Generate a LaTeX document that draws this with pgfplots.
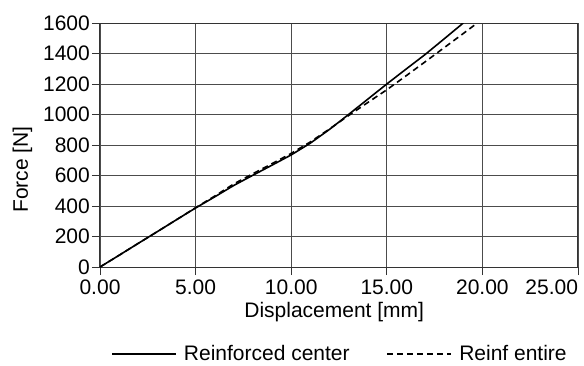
\documentclass[border=0pt]{standalone}
\usepackage{fontspec}
\setmainfont{Liberation Sans}
\usepackage{pgfplots}
\pgfplotsset{compat=1.18}
\begin{document}
\begin{tikzpicture}
\path[use as bounding box] (-100pt,-98pt) rectangle (484pt,267pt);
\begin{axis}[
  scale only axis,
  width=478pt, height=244pt,
  at={(0,0)}, anchor=south west,
  xmin=0, xmax=25, ymin=0, ymax=1600,
  xtick={0,5,10,15,20,25},
  xticklabels={0.00,5.00,10.00,15.00,20.00,\llap{25.00}},
  ytick={0,200,400,600,800,1000,1200,1400,1600},
  yticklabels={0,200,400,600,800,1000,1200,1400,1600},
  grid=major,
  major grid style={black!70, line width=0.9pt},
  axis line style={black!80, line width=1pt},
  tick style={black!80, line width=0.9pt},
  tick align=outside,
  major tick length=8pt,
  xtick pos=bottom, ytick pos=left,
  tick label style={font=\fontsize{21}{25}\selectfont, inner sep=2pt},
  xticklabel style={yshift=-3pt},
  label style={font=\fontsize{21}{25}\selectfont},
  xlabel={Displacement [mm]},
  ylabel={Force [N]},
  xlabel style={at={(axis description cs:0.49,-0.205)}, anchor=base},
  ylabel style={at={(axis description cs:-0.162,0.40)}, anchor=center},
  legend style={at={(axis description cs:0.5,-0.356)}, anchor=center, draw=none,
    font=\fontsize{21}{25}\selectfont, fill=none,
    nodes={inner sep=0pt},
    /tikz/every odd column/.append style={column sep=7pt},
    /tikz/every even column/.append style={column sep=37pt}},
  legend columns=2,
  legend cell align=left,
  legend image code/.code={\draw[#1] (0pt,0pt) -- (64pt,0pt);},
]
\addplot[black, line width=1.6pt] coordinates {
(0,0) (1,77) (2,155) (3,232) (4,310) (5,387) (6,460) (7,535) (8,602) (9,668) (10,735) (11,812) (12,902) (13,1000) (14,1100) (15,1200) (16,1297) (17,1393) (18,1496) (19,1600)
};
\addlegendentry{Reinforced center}
\addplot[black, line width=1.6pt, dash pattern=on 6pt off 4pt] coordinates {
(0,0) (1,77) (2,155) (3,232) (4,310) (5,389) (6,465) (7,545) (8,612) (9,678) (10,745) (11,820) (12,905) (13,993) (14,1078) (15,1162) (16,1253) (17,1345) (18,1438) (19,1531) (19.73,1600)
};
\addlegendentry{Reinf entire}
\end{axis}
\end{tikzpicture}
\end{document}
